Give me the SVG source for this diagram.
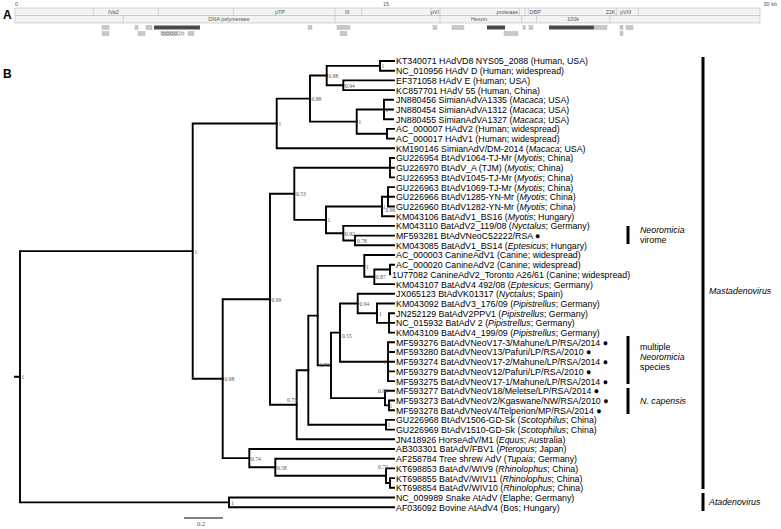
<svg xmlns="http://www.w3.org/2000/svg" width="781" height="529" viewBox="0 0 781 529">
<style>
.t{font-family:"Liberation Sans",Arial,sans-serif;font-size:9.8px;fill:#000}
.i{font-style:italic}
.n{font-family:"Liberation Serif","Times New Roman",serif;font-size:5.5px;fill:#555}
.br{stroke:#000;stroke-width:1.9;fill:none;stroke-linecap:square}
.bar{stroke:#000;stroke-width:3;fill:none}
.gl{font-family:"Liberation Sans",Arial,sans-serif;font-size:5.5px;fill:#555}
.box{fill:#f3f3f3;stroke:#bdbdbd;stroke-width:0.6}
.sep{stroke:#bdbdbd;stroke-width:0.6}
.gb{fill:#c8c8c8;stroke:#aaa;stroke-width:0.4}
.db{fill:#4a4a4a}
.pl{font-family:"Liberation Sans",Arial,sans-serif;font-size:12px;font-weight:bold;fill:#000}
</style>

<!-- Panel A: genome map -->
<g id="panelA">
<text class="pl" x="3" y="19">A</text>
<text class="gl" x="15" y="6">0</text>
<text class="gl" x="383" y="6">15</text>
<text class="gl" x="777" y="6" text-anchor="end">30 kb</text>
<rect class="box" x="15" y="8" width="745" height="7.5"/>
<rect class="box" x="15" y="15.5" width="745" height="7.5"/>
<path class="sep" d="M93.3 8V15.5M158.3 8V15.5M233.3 8V15.5M335 8V15.5M361.7 8V15.5M430.7 8V15.5M440 8V15.5M519.3 8V15.5M525 8V15.5M528.3 8V15.5M616.7 8V15.5M638.3 8V15.5M123.3 15.5V23M335 15.5V23M440 15.5V23M521.7 15.5V23M536.7 15.5V23M610 15.5V23"/>
<text class="gl" x="108" y="13.8">IVa2</text>
<text class="gl" x="280" y="13.8" text-anchor="middle">pTP</text>
<text class="gl" x="345" y="13.8">III</text>
<text class="gl" x="439" y="13.8" text-anchor="end">pVI</text>
<text class="gl" x="518" y="13.8" text-anchor="end">protease</text>
<text class="gl" x="529.5" y="13.8">DBP</text>
<text class="gl" x="615.5" y="13.8" text-anchor="end">22K</text>
<text class="gl" x="620" y="13.8">pVIII</text>
<text class="gl" x="229" y="21.3" text-anchor="middle">DNA polymerase</text>
<text class="gl" x="479" y="21.3" text-anchor="middle">Hexon</text>
<text class="gl" x="573" y="21.3" text-anchor="middle">100k</text>
<rect class="gb" x="102" y="25.5" width="7" height="4"/>
<rect class="gb" x="135" y="25.5" width="3" height="4"/>
<rect class="gb" x="146" y="25.5" width="6" height="4"/>
<rect class="db" x="154" y="25.5" width="46" height="4"/>
<rect class="gb" x="308" y="25.5" width="4" height="4"/>
<rect class="gb" x="337" y="25.5" width="13" height="4"/>
<rect class="gb" x="433" y="25.5" width="4" height="4"/>
<rect class="gb" x="452" y="25.5" width="12" height="4"/>
<rect class="db" x="487" y="25.5" width="18" height="4"/>
<rect class="gb" x="523" y="25.5" width="2.5" height="4"/>
<rect class="gb" x="529" y="25.5" width="4" height="4"/>
<rect class="db" x="549" y="25.5" width="45" height="4"/>
<rect class="gb" x="594" y="25.5" width="13" height="4"/>
<rect class="gb" x="620" y="25.5" width="3" height="4"/>
<rect class="gb" x="626" y="25.5" width="7" height="4"/>
<rect class="gb" x="102" y="31.5" width="7" height="4"/>
<rect class="gb" x="138" y="31.5" width="7" height="4"/>
<rect x="161" y="31.5" width="19" height="4" fill="#ddd" stroke="#999" stroke-width="0.4"/>
<g fill="none" stroke="#444" stroke-width="0.5">
<ellipse cx="163.5" cy="33.5" rx="1.6" ry="1.3"/><ellipse cx="167.5" cy="33.5" rx="1.6" ry="1.3"/><ellipse cx="171.5" cy="33.5" rx="1.6" ry="1.3"/><ellipse cx="175.5" cy="33.5" rx="1.6" ry="1.3"/>
<circle cx="182.5" cy="33.5" r="1.5"/>
</g>
<rect class="gb" x="188" y="31.5" width="6" height="4"/>
<rect class="gb" x="340" y="31.5" width="7" height="4"/>
<rect class="gb" x="504" y="31.5" width="14" height="4"/>
<rect class="gb" x="620" y="31.5" width="3" height="4"/>
</g>

<text class="pl" x="3" y="78">B</text>

<!-- connectors: tree branches -->
<g id="tree" class="br">
<path d="M15 376.7H20M20 251.1V502.35M20 251.1H192.7M20 502.35H229"/>
<path d="M229 497.5V507.2M229 497.5H394M229 507.2H394"/>
<path d="M192.7 123.45V378.7M192.7 123.45H276.7M192.7 378.7H222.7"/>
<path d="M276.7 98.6V148.3M276.7 98.6H310M276.7 148.3H394"/>
<path d="M310 75.55V121.6M310 75.55H326.7M310 121.6H356.7"/>
<path d="M326.7 65.85V85.25M326.7 65.85H380M326.7 85.25H343.3"/>
<path d="M380 61V70.7M380 61H394M380 70.7H394"/>
<path d="M343.3 80.4V90.1M343.3 80.4H394M343.3 90.1H394"/>
<path d="M356.7 109.5V133.75M356.7 109.5H384M356.7 133.75H387"/>
<path d="M384 99.8V119.2M384 99.8H393M384 109.5H393M384 119.2H393"/>
<path d="M387 128.9V138.6M387 128.9H394M387 138.6H394"/>
<path d="M222.7 299.3V458.1M222.7 299.3H270M222.7 458.1H249.3"/>
<path d="M270 193.8V404.75M270 193.8H294.3M270 404.75H296.7"/>
<path d="M294.3 167.7V219.85M294.3 167.7H390M294.3 219.85H326"/>
<path d="M390 158V177.4M390 158H394M390 167.7H394M390 177.4H394"/>
<path d="M326 206.5V233.2M326 206.5H382M326 233.2H343.3"/>
<path d="M382 196.8V216.2M382 196.8H388M382 216.2H394"/>
<path d="M388 187.1V206.5M388 187.1H394M388 196.8H394M388 206.5H394"/>
<path d="M343.3 225.9V240.45M343.3 225.9H394M343.3 240.45H355"/>
<path d="M355 235.6V245.3M355 235.6H394M355 245.3H394"/>
<path d="M296.7 370.2V439.3M296.7 370.2H308.3M296.7 439.3H394"/>
<path d="M308.3 315.6V424.75M308.3 315.6H317.7M308.3 424.75H386"/>
<path d="M386 419.9V429.6M386 419.9H394M386 429.6H394"/>
<path d="M317.7 265.9V365.35M317.7 265.9H364.3M317.7 365.35H331"/>
<path d="M364.3 255V276.8M364.3 255H394M364.3 276.8H374.3"/>
<path d="M374.3 269.55V284.1M374.3 269.55H390M374.3 284.1H394"/>
<path d="M390 264.7V274.4M390 264.7H394"/>
<path d="M331 332.6V398.1M331 332.6H340M331 398.1H385"/>
<path d="M340 303.5V361.7M340 303.5H357.7M340 361.7H388"/>
<path d="M357.7 293.8V313.2M357.7 293.8H394M357.7 313.2H377"/>
<path d="M377 303.5V322.9M377 303.5H394M377 322.9H389"/>
<path d="M389 313.2V332.6M389 313.2H394M389 322.9H394M389 332.6H394"/>
<path d="M388 342.3V381.1M388 342.3H394M388 352H394M388 361.7H394M388 371.4H394M388 381.1H394"/>
<path d="M385 390.8V405.35M385 390.8H394M385 405.35H389"/>
<path d="M389 400.5V410.2M389 400.5H394M389 410.2H394"/>
<path d="M249.3 449V467.2M249.3 449H394M249.3 467.2H275.3"/>
<path d="M275.3 458.7V475.7M275.3 458.7H394M275.3 475.7H386"/>
<path d="M386 468.4V482.95M386 468.4H394M386 482.95H390"/>
<path d="M390 478.1V487.8M390 478.1H394M390 487.8H394"/>
</g>

<!-- node support values -->
<g id="support">
<text class="n" x="21.5" y="379">1</text>
<text class="n" x="231" y="504.5">1</text>
<text class="n" x="194.5" y="253.5">1</text>
<text class="n" x="278.5" y="125.5">1</text>
<text class="n" x="311.5" y="100.8">0.88</text>
<text class="n" x="328.5" y="77.8">0.88</text>
<text class="n" x="345" y="87.5">0.94</text>
<text class="n" x="381.5" y="68">1</text>
<text class="n" x="358.5" y="124">1</text>
<text class="n" x="385.5" y="112">1</text>
<text class="n" x="224.5" y="381">0.98</text>
<text class="n" x="271.5" y="301.5">0.99</text>
<text class="n" x="296" y="196">0.53</text>
<text class="n" x="327.5" y="222">1</text>
<text class="n" x="383" y="209">1</text>
<text class="n" x="385.5" y="212">0.96</text>
<text class="n" x="345" y="235.5">0.92</text>
<text class="n" x="357" y="243">0.78</text>
<text class="n" x="366" y="268.5">1</text>
<text class="n" x="376" y="279">0.87</text>
<text class="n" x="359.5" y="306">0.94</text>
<text class="n" x="379" y="316">1</text>
<text class="n" x="342" y="338">0.55</text>
<text class="n" x="383.5" y="363.5">1</text>
<text class="n" x="319.5" y="367">0.73</text>
<text class="n" x="378" y="392.5">0.99</text>
<text class="n" x="389.5" y="407.5">1</text>
<text class="n" x="287" y="402">0.73</text>
<text class="n" x="387.5" y="427">1</text>
<text class="n" x="251" y="461">0.74</text>
<text class="n" x="277" y="469.5">0.58</text>
<text class="n" x="378" y="469">0.72</text>
</g>

<!-- leaf labels -->
<g id="leaves" class="t" transform="translate(396 0) scale(0.9 1)">
<text x="0" y="64.5">KT340071 HAdVD8 NYS05_2088 (Human, USA)</text>
<text x="0" y="74.2">NC_010956 HAdV D (Human; widespread)</text>
<text x="0" y="83.9">EF371058 HAdV E (Human; USA)</text>
<text x="0" y="93.6">KC857701 HAdV 55 (Human, China)</text>
<text x="0" y="103.3">JN880456 SimianAdVA1335 (<tspan class="i">Macaca</tspan>; USA)</text>
<text x="0" y="113">JN880454 SimianAdVA1312 (<tspan class="i">Macaca</tspan>; USA)</text>
<text x="0" y="122.7">JN880455 SimianAdVA1327 (<tspan class="i">Macaca</tspan>; USA)</text>
<text x="0" y="132.4">AC_000007 HAdV2 (Human; widespread)</text>
<text x="0" y="142.1">AC_000017 HAdV1 (Human; widespread)</text>
<text x="0" y="151.8">KM190146 SimianAdV/DM-2014 (<tspan class="i">Macaca</tspan>; USA)</text>
<text x="0" y="161.5">GU226954 BtAdV1064-TJ-Mr (<tspan class="i">Myotis</tspan>; China)</text>
<text x="0" y="171.2">GU226970 BtAdV_A (TJM) (<tspan class="i">Myotis</tspan>; China)</text>
<text x="0" y="180.9">GU226953 BtAdV1045-TJ-Mr (<tspan class="i">Myotis</tspan>; China)</text>
<text x="0" y="190.6">GU226963 BtAdV1069-TJ-Mr (<tspan class="i">Myotis</tspan>; China)</text>
<text x="0" y="200.3">GU226966 BtAdV1285-YN-Mr (<tspan class="i">Myotis</tspan>; China)</text>
<text x="0" y="210">GU226960 BtAdV1282-YN-Mr (<tspan class="i">Myotis</tspan>; China)</text>
<text x="0" y="219.7">KM043106 BatAdV1_BS16 (<tspan class="i">Myotis</tspan>; Hungary)</text>
<text x="0" y="229.4">KM043110 BatAdV2_119/08 (<tspan class="i">Nyctalus</tspan>; Germany)</text>
<text x="0" y="239.1">MF593281 BtAdVNeoC52222/RSA <tspan>●</tspan></text>
<text x="0" y="248.8">KM043085 BatAdV1_BS14 (<tspan class="i">Eptesicus</tspan>; Hungary)</text>
<text x="0" y="258.5">AC_000003 CanineAdV1 (Canine; widespread)</text>
<text x="0" y="268.2">AC_000020 CanineAdV2 (Canine; widespread)</text>
<text x="-4.4" y="277.9">1U77082 CanineAdV2_Toronto A26/61 (Canine; widespread)</text>
<text x="0" y="287.6">KM043107 BatAdV4 492/08 (<tspan class="i">Eptesicus</tspan>; Germany)</text>
<text x="0" y="297.3">JX065123 BtAdVK01317 (<tspan class="i">Nyctalus</tspan>; Spain)</text>
<text x="0" y="307">KM043092 BatAdV3_176/09 (<tspan class="i">Pipistrellus</tspan>; Germany)</text>
<text x="0" y="316.7">JN252129 BatAdV2PPV1 (<tspan class="i">Pipistrellus</tspan>; Germany)</text>
<text x="0" y="326.4">NC_015932 BatAdV 2 (<tspan class="i">Pipistrellus</tspan>; Germany)</text>
<text x="0" y="336.1">KM043109 BatAdV4_199/09 (<tspan class="i">Pipistrellus</tspan>; Germany)</text>
<text x="0" y="345.8">MF593276 BatAdVNeoV17-3/Mahune/LP/RSA/2014 ●</text>
<text x="0" y="355.5">MF593280 BatAdVNeoV13/Pafuri/LP/RSA/2010 ●</text>
<text x="0" y="365.2">MF593274 BatAdVNeoV17-2/Mahune/LP/RSA/2014 ●</text>
<text x="0" y="374.9">MF593279 BatAdVNeoV12/Pafuri/LP/RSA/2010 ●</text>
<text x="0" y="384.6">MF593275 BatAdVNeoV17-1/Mahune/LP/RSA/2014 ●</text>
<text x="0" y="394.3">MF593277 BatAdVNeoV18/Meletse/LP/RSA/2014 ●</text>
<text x="0" y="404">MF593273 BatAdVNeoV2/Kgaswane/NW/RSA/2010 ●</text>
<text x="0" y="413.7">MF593278 BatAdVNeoV4/Telperion/MP/RSA/2014 ●</text>
<text x="0" y="423.4">GU226968 BtAdV1506-GD-Sk (<tspan class="i">Scotophilus</tspan>; China)</text>
<text x="0" y="433.1">GU226969 BtAdV1510-GD-Sk (<tspan class="i">Scotophilus</tspan>; China)</text>
<text x="0" y="442.8">JN418926 HorseAdV/M1 (<tspan class="i">Equus</tspan>; Australia)</text>
<text x="0" y="452.5">AB303301 BatAdV/FBV1 (<tspan class="i">Pteropus</tspan>; Japan)</text>
<text x="0" y="462.2">AF258784 Tree shrew AdV (<tspan class="i">Tupaia</tspan>; Germany)</text>
<text x="0" y="471.9">KT698853 BatAdV/WIV9 (<tspan class="i">Rhinolophus</tspan>; China)</text>
<text x="0" y="481.6">KT698855 BatAdV/WIV11 (<tspan class="i">Rhinolophus</tspan>; China)</text>
<text x="0" y="491.3">KT698854 BatAdV/WIV10 (<tspan class="i">Rhinolophus</tspan>; China)</text>
<text x="0" y="501">NC_009989 Snake AtAdV (Elaphe; Germany)</text>
<text x="0" y="510.7">AF036092 Bovine AtAdV4 (Bos; Hungary)</text>
</g>

<!-- clade bars -->
<g id="clades">
<path class="bar" d="M628 226V244M628 336V384M628 388V414M703 57V489M703 493V511"/>
<g class="t" transform="translate(640 0) scale(0.9 1)">
<text class="i" x="0" y="233">Neoromicia</text>
<text x="0" y="243">virome</text>
<text x="0" y="350.5">multiple</text>
<text class="i" x="0" y="360.5">Neoromicia</text>
<text x="0" y="370.5">species</text>
<text class="i" x="0" y="404.5">N. capensis</text>
</g>
<g class="t i" transform="translate(709 0) scale(0.9 1)">
<text x="0" y="294">Mastadenovirus</text>
<text x="0" y="505">Atadenovirus</text>
</g>
</g>

<!-- scale bar -->
<g id="scale">
<path d="M184 518H223" stroke="#000" stroke-width="1.2"/>
<text class="n" x="201" y="526" text-anchor="middle" style="font-size:6.5px">0.2</text>
</g>
</svg>
